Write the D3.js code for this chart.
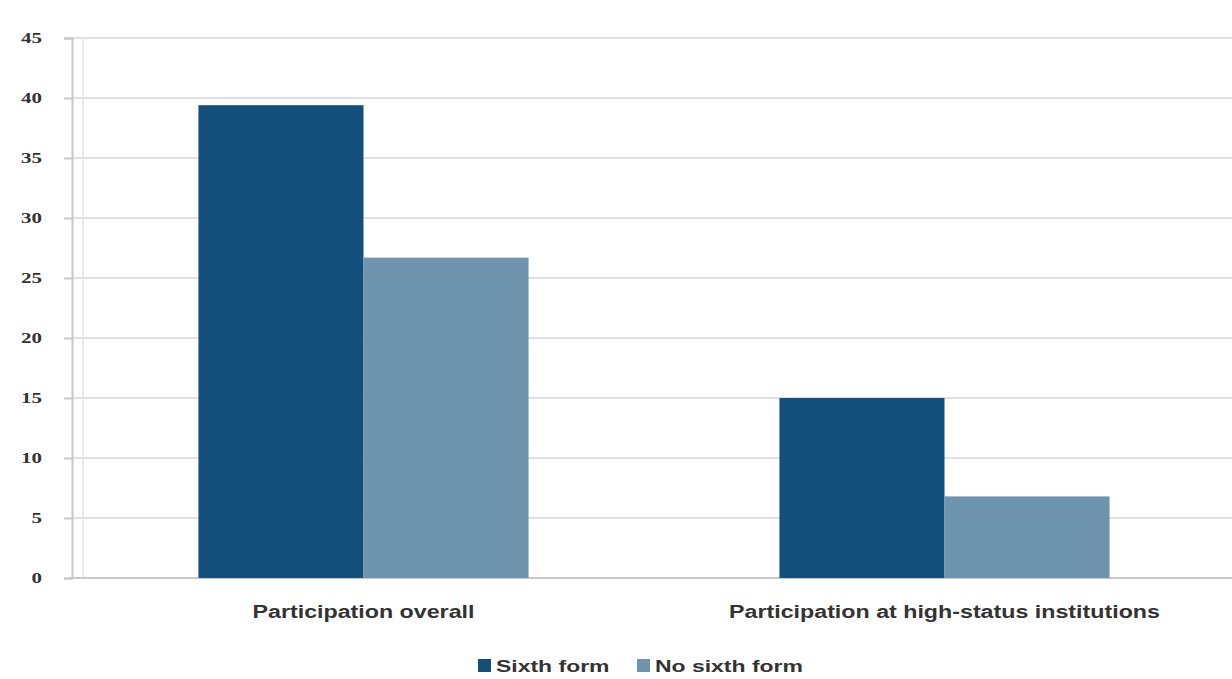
<!DOCTYPE html>
<html><head><meta charset="utf-8">
<script src="https://cdn.jsdelivr.net/npm/d3@7"></script>
<style>body{margin:0;background:#fff}</style>
</head><body>
<svg id="c" width="1232" height="679"></svg>
<script>
const categories = ["Participation overall", "Participation at high-status institutions"];
const seriesNames = ["Sixth form", "No sixth form"];
const sixthForm = [39.4, 15.0];
const noSixthForm = [26.7, 6.8];
const yTicks = [0, 5, 10, 15, 20, 25, 30, 35, 40, 45];
const colors = ["#13507b", "#6e94ae"];

const svg = d3.select("#c");
const margin = {left: 72, right: -2, top: 38, bottom: 101};
const W = 1232, H = 679;
const x0 = d3.scaleBand().domain(categories).range([margin.left + 1, W - margin.right + 1]).paddingInner(0).paddingOuter(0);
const x1 = d3.scaleBand().domain(seriesNames).range([0, x0.bandwidth()]).paddingInner(0).paddingOuter(0.76);
const y = d3.scaleLinear().domain([0, 45]).range([H - margin.bottom, margin.top]);

function stretch(sel, k) {
  sel.each(function() {
    const w = this.getComputedTextLength();
    d3.select(this).attr("textLength", w * k).attr("lengthAdjust", "spacingAndGlyphs");
  });
}

// gridlines
svg.append("g").selectAll("line").data(yTicks).join("line")
  .attr("x1", margin.left).attr("x2", W)
  .attr("y1", d => y(d)).attr("y2", d => y(d))
  .attr("stroke", "#e0e0e0").attr("stroke-width", 2);
svg.append("line").attr("x1", 83).attr("x2", 83).attr("y1", y(45)).attr("y2", y(0))
  .attr("stroke", "#e4e4e4").attr("stroke-width", 1.5);

// y axis
const yAxis = d3.axisLeft(y).tickValues(yTicks).tickSize(8).tickPadding(22);
const ga = svg.append("g").attr("transform", `translate(${margin.left},0)`).call(yAxis);
ga.select(".domain").attr("stroke", "#c8c8c8").attr("stroke-width", 2);
ga.selectAll(".tick line").attr("stroke", "#c8c8c8").attr("stroke-width", 2);
ga.selectAll("text").attr("font-family", "Liberation Serif, serif").attr("font-size", 15).attr("font-weight", "bold").attr("fill", "#333");
stretch(ga.selectAll("text"), 1.4);
svg.append("line").attr("x1", margin.left).attr("x2", W).attr("y1", y(0)).attr("y2", y(0)).attr("stroke", "#c8c8c8").attr("stroke-width", 2);

// bars
const data = categories.map((c, i) => ({c, vals: [sixthForm[i], noSixthForm[i]]}));
const groups = svg.append("g").selectAll("g").data(data).join("g")
  .attr("transform", d => `translate(${x0(d.c)},0)`);
groups.selectAll("rect").data(d => d.vals.map((v, j) => ({s: seriesNames[j], v, j}))).join("rect")
  .attr("x", d => x1(d.s)).attr("width", x1.bandwidth())
  .attr("y", d => y(d.v)).attr("height", d => y(0) - y(d.v))
  .attr("fill", d => colors[d.j]);

// x labels
const xl = svg.append("g").selectAll("text").data(categories).join("text")
  .attr("x", d => x0(d) + x0.bandwidth() / 2).attr("y", 618)
  .attr("text-anchor", "middle")
  .attr("font-family", "Liberation Sans Narrow, Liberation Sans, Arial, sans-serif")
  .attr("font-size", 18).attr("font-weight", "bold").attr("fill", "#333")
  .text(d => d);
stretch(xl, 1.29);

// legend
const leg = svg.append("g").attr("transform", "translate(478,666)");
const legX = [0, 159];
seriesNames.forEach((s, i) => {
  const g = leg.append("g").attr("transform", `translate(${legX[i]},0)`);
  g.append("rect").attr("x", 0).attr("y", -7).attr("width", 13).attr("height", 13).attr("fill", colors[i]);
  const t = g.append("text").attr("x", 18).attr("y", 6)
    .attr("font-family", "Liberation Sans Narrow, Liberation Sans, Arial, sans-serif")
    .attr("font-size", 17).attr("font-weight", "bold").attr("fill", "#333").text(s);
  stretch(t, 1.35);
});
</script>
</body></html>
